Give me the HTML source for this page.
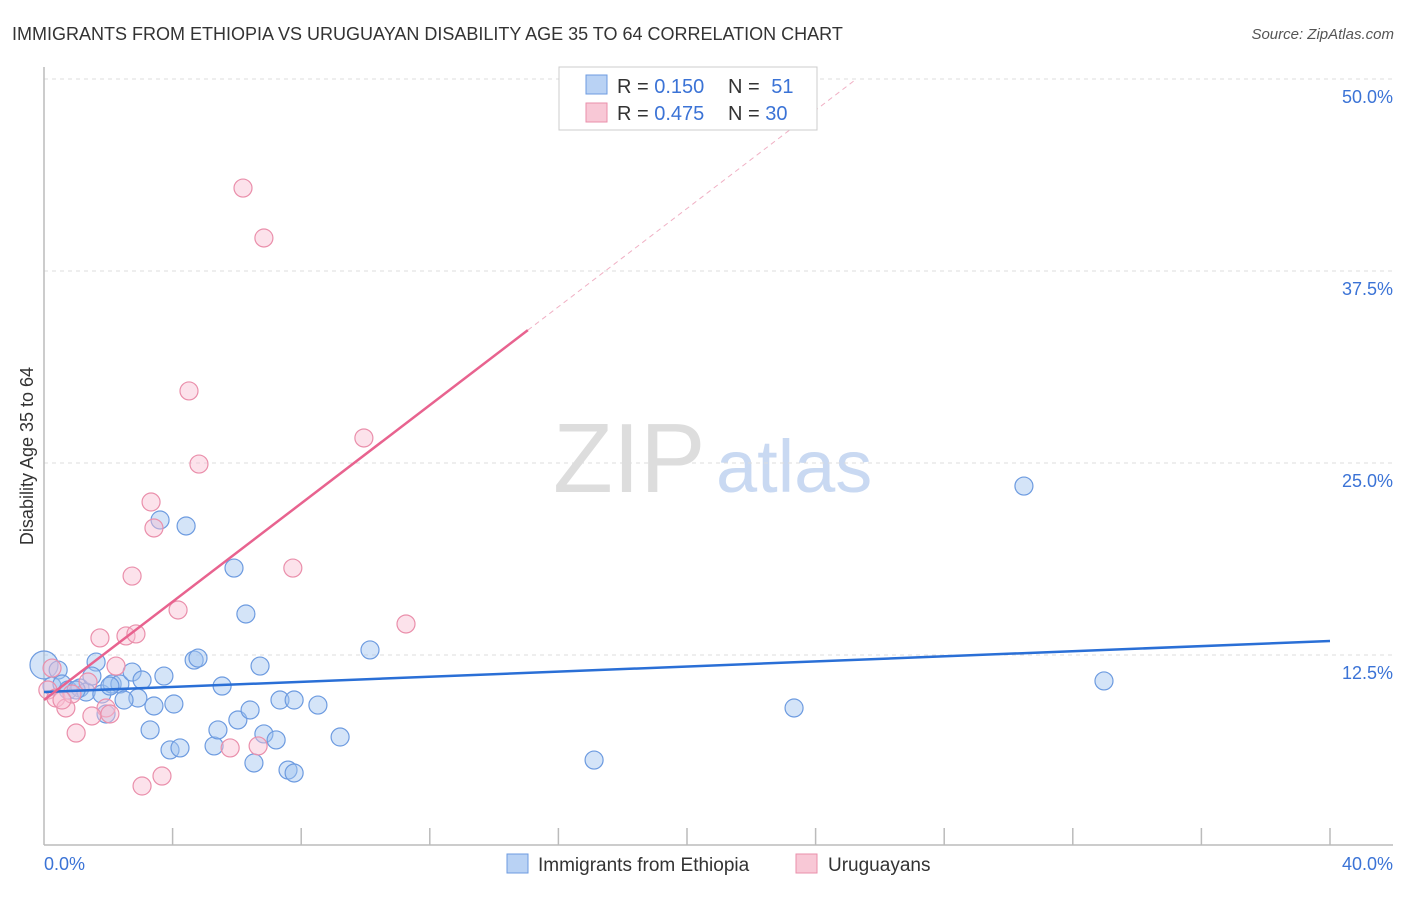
<!DOCTYPE html>
<html><head><meta charset="utf-8"><style>
body{margin:0;background:#fff;font-family:"Liberation Sans",sans-serif;}
svg text{font-family:"Liberation Sans",sans-serif;}
</style></head><body>
<svg id="c" width="1406" height="892" xmlns="http://www.w3.org/2000/svg">
<text x="12" y="40" font-size="18" fill="#333">IMMIGRANTS FROM ETHIOPIA VS URUGUAYAN DISABILITY AGE 35 TO 64 CORRELATION CHART</text>
<text x="1394" y="39" font-size="15" fill="#555" font-style="italic" text-anchor="end">Source: ZipAtlas.com</text>
<g>
<text x="553" y="492" font-size="98" fill="#ddd" font-family="Liberation Serif,serif">ZIP</text>
<text x="716" y="492" font-size="74" fill="#c9d9f2">atlas</text>
</g>
<g id="grid"></g>
<line x1="44" y1="67" x2="44" y2="845" stroke="#bbb" stroke-width="1.5"/>
<line x1="44" y1="845" x2="1393" y2="845" stroke="#bbb" stroke-width="1.5"/>
<text x="44" y="870" font-size="18" fill="#3b73d6">0.0%</text>
<text x="1393" y="870" font-size="18" fill="#3b73d6" text-anchor="end">40.0%</text>
<text transform="translate(33,456) rotate(-90)" font-size="18" fill="#333" text-anchor="middle">Disability Age 35 to 64</text>
<g id="pts"></g>
<g id="lines"></g>
<g>
<rect x="559" y="67" width="258" height="63" fill="#fff" stroke="#ccc"/>
<rect x="586" y="75" width="21" height="19" fill="#b9d2f4" stroke="#6d9be0"/>
<rect x="586" y="103" width="21" height="19" fill="#f8c8d6" stroke="#ea8fab"/>
<text x="617" y="93" font-size="20" fill="#333">R = <tspan fill="#3b73d6">0.150</tspan></text>
<text x="728" y="93" font-size="20" fill="#333">N = <tspan fill="#3b73d6" dx="6">51</tspan></text>
<text x="617" y="120" font-size="20" fill="#333">R = <tspan fill="#3b73d6">0.475</tspan></text>
<text x="728" y="120" font-size="20" fill="#333">N = <tspan fill="#3b73d6">30</tspan></text>
</g>
<g>
<rect x="507" y="854" width="21" height="19" fill="#b9d2f4" stroke="#6d9be0"/>
<text x="538" y="871" font-size="19" fill="#333">Immigrants from Ethiopia</text>
<rect x="796" y="854" width="21" height="19" fill="#f8c8d6" stroke="#ea8fab"/>
<text x="828" y="871" font-size="19" fill="#333">Uruguayans</text>
</g>
</svg>
<script>
const yTicks=[12.5,25.0,37.5,50.0];
const xTickCount=10;
const blueX=[0,0.44,0.25,0.56,0.75,1.12,1.31,1.62,1.49,1.80,2.12,2.36,2.74,3.05,2.92,3.42,3.73,4.04,3.30,3.92,4.23,3.61,4.42,4.67,4.79,5.54,5.29,5.41,6.03,6.41,6.53,6.84,7.22,5.91,6.28,6.72,7.34,7.78,7.59,7.78,8.52,9.21,10.14,17.11,23.33,30.48,32.97,1.93,2.49,2.05,1.00];
const blueY=[11.85,11.52,10.48,10.61,10.22,10.35,10.09,12.04,11.13,9.96,10.61,10.61,11.39,10.87,9.70,9.18,11.13,9.31,7.62,6.32,6.45,21.29,20.90,12.17,12.30,10.48,6.58,7.62,8.27,8.92,5.47,7.36,6.97,18.16,15.17,11.78,9.57,9.57,5.01,4.82,9.24,7.16,12.83,5.66,9.05,23.50,10.81,8.66,9.57,10.48,10.22];
const pinkX=[6.19,6.84,4.51,4.82,9.95,3.33,3.42,2.74,7.74,4.17,11.26,1.74,2.55,2.86,2.24,0.12,0.37,0.68,0.87,1.37,1.93,2.05,1.49,1.00,5.79,6.66,3.67,3.05,0.25,0.56];
const pinkY=[42.90,39.65,29.69,24.93,26.63,22.46,20.77,17.64,18.16,15.43,14.52,13.61,13.74,13.87,11.78,10.22,9.70,9.05,9.96,10.74,9.05,8.66,8.53,7.42,6.45,6.58,4.62,3.97,11.65,9.57];
const blueTrend=[10.09,13.41];
const pinkTrend=[9.57,1.60];
const NS="http://www.w3.org/2000/svg";
const X=v=>44+v/40*1286, Y=v=>847-v/12.5*192;
function mk(t,a,p){const e=document.createElementNS(NS,t);for(const k in a)e.setAttribute(k,a[k]);p.appendChild(e);return e;}
const grid=document.getElementById('grid');
yTicks.forEach(t=>{
 const l=mk('line',{x1:44,x2:1393,y1:Y(t),y2:Y(t),stroke:'#ddd','stroke-dasharray':'4,4'},grid);
 
 
 const tx=mk('text',{x:1393,y:Y(t)+24,'font-size':18,fill:'#3b73d6','text-anchor':'end'},grid);
 tx.textContent=t.toFixed(1)+'%';
 
 
});
for(let i=1;i<=xTickCount;i++){
 const l=mk('line',{x1:X(i*4),x2:X(i*4),y1:828,y2:845,stroke:'#bbb','stroke-width':1.5},grid);
 
 
}
const pts=document.getElementById('pts');
blueX.forEach((v,i)=>{
 const c=mk('circle',{cx:X(v),cy:Y(blueY[i]),r:i===0?14:9,fill:'rgba(160,195,240,0.45)',stroke:'#6d9be0','stroke-width':1.2},pts);
 
 
});
pinkX.forEach((v,i)=>{
 const c=mk('circle',{cx:X(v),cy:Y(pinkY[i]),r:9,fill:'rgba(248,190,210,0.45)',stroke:'#ea8fab','stroke-width':1.2},pts);
 
 
});
const lines=document.getElementById('lines');
const bl=mk('line',{x1:X(0),y1:Y(blueTrend[0]),x2:X(40),y2:Y(blueTrend[1]),stroke:'#2a6fd6','stroke-width':2.5},lines);


const pf=x=>pinkTrend[0]+pinkTrend[1]*x;
const pl=mk('line',{x1:X(0),y1:Y(pf(0)),x2:X(15.05),y2:Y(pf(15.05)),stroke:'#e8638f','stroke-width':2.5},lines);


const pd=mk('line',{x1:X(15.05),y1:Y(pf(15.05)),x2:X(25.2),y2:Y(pf(25.2)),stroke:'#f0b0c4','stroke-width':1,'stroke-dasharray':'5,4'},lines);


</script>
</body></html>
